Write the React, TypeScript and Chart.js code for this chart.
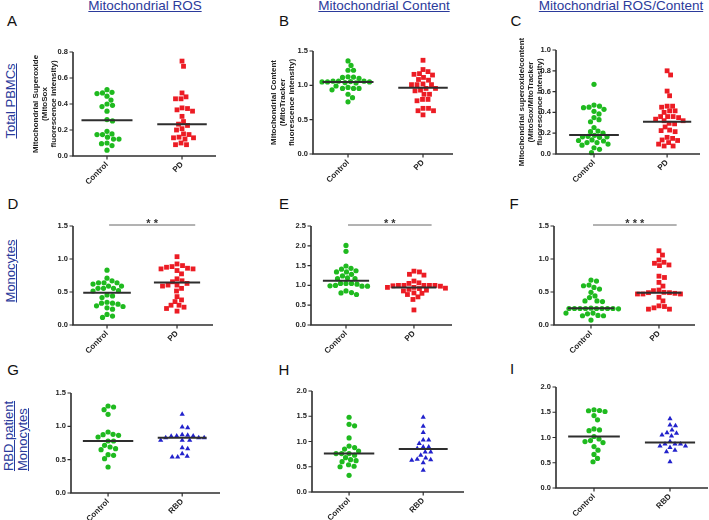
import React, { useEffect, useRef } from "react";
import { Chart, registerables } from "chart.js";
Chart.register(...registerables);

const FONT = "'Liberation Sans', Arial, Helvetica, sans-serif";

// ---------- categories ----------
const catsPD = ["Control", "PD"];
const catsRBD = ["Control", "RBD"];

// ---------- Row 1 : Total PBMCs ----------
const pbmcRosControl = [0.49, 0.48, 0.485, 0.51, 0.43, 0.46, 0.39, 0.38, 0.4, 0.345, 0.28, 0.27, 0.19, 0.165, 0.165, 0.17, 0.13, 0.145, 0.13, 0.1, 0.08, 0.095, 0.045];
const pbmcRosPD = [0.73, 0.69, 0.485, 0.44, 0.44, 0.455, 0.365, 0.345, 0.355, 0.37, 0.305, 0.265, 0.235, 0.245, 0.2, 0.21, 0.165, 0.17, 0.14, 0.14, 0.145, 0.13, 0.1, 0.087, 0.087];
const pbmcRosMedians = [0.275, 0.245];

const pbmcContentControl = [1.355, 1.29, 1.22, 1.22, 1.12, 1.115, 1.125, 1.1, 1.06, 1.06, 1.055, 1.05, 1.04, 1.035, 1.05, 1.05, 1.06, 0.955, 0.955, 0.97, 0.99, 0.935, 0.955, 0.87, 0.82, 0.76];
const pbmcContentPD = [1.365, 1.17, 1.23, 1.16, 1.2, 1.15, 1.085, 1.115, 1.075, 1.01, 1.01, 1.01, 1.02, 0.955, 0.93, 0.92, 0.955, 0.87, 0.87, 0.795, 0.775, 0.795, 0.665, 0.665, 0.63, 0.63, 0.57];
const pbmcContentMedians = [1.05, 0.965];

const pbmcRatioControl = [0.67, 0.47, 0.43, 0.45, 0.46, 0.445, 0.385, 0.41, 0.35, 0.33, 0.31, 0.255, 0.215, 0.22, 0.18, 0.165, 0.16, 0.165, 0.17, 0.2, 0.135, 0.125, 0.13, 0.095, 0.085, 0.11, 0.11, 0.06, 0.045, 0.013];
const pbmcRatioPD = [0.8, 0.76, 0.605, 0.56, 0.46, 0.46, 0.45, 0.415, 0.4, 0.415, 0.35, 0.335, 0.36, 0.36, 0.36, 0.32, 0.295, 0.29, 0.32, 0.225, 0.215, 0.23, 0.26, 0.16, 0.15, 0.13, 0.135, 0.095, 0.077, 0.077, 0.11];
const pbmcRatioMedians = [0.183, 0.31];

// ---------- Row 2 : Monocytes ----------
const monoRosControl = [0.83, 0.71, 0.64, 0.64, 0.64, 0.67, 0.62, 0.59, 0.59, 0.555, 0.555, 0.555, 0.52, 0.515, 0.455, 0.44, 0.415, 0.33, 0.33, 0.345, 0.315, 0.29, 0.26, 0.28, 0.24, 0.16, 0.135, 0.115];
const monoRosPD = [1.035, 0.875, 0.85, 0.925, 0.825, 0.775, 0.85, 0.86, 0.885, 0.9, 0.655, 0.7, 0.67, 0.605, 0.605, 0.63, 0.59, 0.555, 0.515, 0.38, 0.355, 0.43, 0.3, 0.27, 0.3, 0.25, 0.21];
const monoRosMedians = [0.49, 0.645];

const monoContentControl = [2.01, 1.86, 1.49, 1.43, 1.41, 1.34, 1.34, 1.37, 1.28, 1.24, 1.19, 1.17, 1.17, 1.05, 1.05, 1.0, 0.98, 0.98, 0.99, 1.05, 1.03, 0.82, 0.77, 0.81, 0.86];
const monoContentPD = [1.36, 1.28, 1.26, 1.34, 1.11, 1.05, 1.0, 0.99, 1.0, 0.98, 1.0, 1.0, 1.0, 1.065, 0.95, 0.93, 0.88, 0.92, 0.95, 0.9, 0.86, 0.8, 0.77, 0.81, 0.71, 0.645, 0.38];
const monoContentMedians = [1.115, 0.95];

const monoRatioControl = [0.68, 0.665, 0.595, 0.605, 0.545, 0.57, 0.495, 0.44, 0.415, 0.365, 0.365, 0.355, 0.25, 0.25, 0.25, 0.245, 0.255, 0.25, 0.25, 0.25, 0.25, 0.25, 0.18, 0.17, 0.18, 0.14, 0.14, 0.145, 0.075];
const monoRatioPD = [1.125, 1.06, 0.95, 0.91, 0.9, 0.935, 0.985, 0.72, 0.74, 0.645, 0.59, 0.53, 0.495, 0.49, 0.48, 0.47, 0.47, 0.47, 0.49, 0.52, 0.42, 0.365, 0.29, 0.26, 0.24, 0.24, 0.28];
const monoRatioMedians = [0.253, 0.49];

// ---------- Row 3 : RBD patient Monocytes ----------
const rbdRosControl = [1.29, 1.25, 1.305, 1.18, 0.88, 0.865, 0.875, 0.915, 0.84, 0.78, 0.78, 0.69, 0.665, 0.715, 0.65, 0.565, 0.575, 0.515, 0.39];
const rbdRosRBD = [1.18, 0.98, 0.99, 0.855, 0.85, 0.83, 0.875, 0.865, 0.83, 0.83, 0.855, 0.79, 0.79, 0.79, 0.68, 0.665, 0.55, 0.54, 0.54, 0.59];
const rbdRosMedians = [0.78, 0.83];

const rbdContentControl = [1.48, 1.31, 1.34, 1.07, 0.88, 0.91, 0.85, 0.81, 0.76, 0.73, 0.76, 0.76, 0.6, 0.64, 0.68, 0.62, 0.51, 0.5, 0.54, 0.33];
const rbdContentRBD = [1.48, 1.3, 1.18, 1.03, 1.03, 0.96, 0.89, 0.86, 0.89, 0.79, 0.73, 0.79, 0.65, 0.63, 0.64, 0.675, 0.58, 0.43];
const rbdContentMedians = [0.76, 0.85];

const rbdRatioControl = [1.535, 1.515, 1.53, 1.55, 1.435, 1.35, 1.17, 1.135, 1.15, 0.97, 0.92, 0.94, 1.02, 0.9, 0.82, 0.75, 0.665, 0.585, 0.52];
const rbdRatioRBD = [1.37, 1.235, 1.25, 1.095, 1.05, 1.03, 1.085, 1.15, 0.83, 0.87, 0.87, 0.87, 0.92, 0.83, 0.75, 0.72, 0.8, 0.52];
const rbdRatioMedians = [1.02, 0.9];

// ---------- axes ----------
const yMaxes = [0.8, 1.5, 1.0, 1.5, 2.5, 1.5, 1.5, 2.0, 2.0];
const ySteps = [0.2, 0.5, 0.2, 0.5, 0.5, 0.5, 0.5, 0.5, 0.5];
const sigLabels = ["", "", "", "**", "**", "***", "", "", ""];
const yTitles: (string[] | null)[] = [
  ["Mitochondrial Superoxide", "(MitoSox", "fluorescence intensity)"],
  ["Mitochondrial Content", "(MitoTracker", "fluorescence intensity)"],
  ["Mitochondrial superoxide/content", "(MitoSox/MitoTracker", "fluorescence intensity)"],
  null, null, null, null, null, null,
];
const columnHeaders = ["Mitochondrial ROS", "Mitochondrial Content", "Mitochondrial ROS/Content"];
const panelLetters = ["A", "B", "C", "D", "E", "F", "G", "H", "I"];

const PANELS = [
  { control: pbmcRosControl, group: pbmcRosPD, medians: pbmcRosMedians, cats: catsPD },
  { control: pbmcContentControl, group: pbmcContentPD, medians: pbmcContentMedians, cats: catsPD },
  { control: pbmcRatioControl, group: pbmcRatioPD, medians: pbmcRatioMedians, cats: catsPD },
  { control: monoRosControl, group: monoRosPD, medians: monoRosMedians, cats: catsPD },
  { control: monoContentControl, group: monoContentPD, medians: monoContentMedians, cats: catsPD },
  { control: monoRatioControl, group: monoRatioPD, medians: monoRatioMedians, cats: catsPD },
  { control: rbdRosControl, group: rbdRosRBD, medians: rbdRosMedians, cats: catsRBD },
  { control: rbdContentControl, group: rbdContentRBD, medians: rbdContentMedians, cats: catsRBD },
  { control: rbdRatioControl, group: rbdRatioRBD, medians: rbdRatioMedians, cats: catsRBD },
];

// ---------- layout (page pixels) ----------
const LAYOUT = [
  { l: 73, r: 216, t: 52, b: 156, xMin: -0.453, xMax: 1.453, titleX: 36 },
  { l: 313, r: 453, t: 51, b: 154, xMin: -0.467, xMax: 1.4, titleX: 274 },
  { l: 556, r: 700, t: 50, b: 154, xMin: -0.52, xMax: 1.45, titleX: 522 },
  { l: 73, r: 213, t: 226, b: 325, xMin: -0.486, xMax: 1.514, titleX: 0 },
  { l: 311, r: 452, t: 226, b: 325, xMin: -0.515, xMax: 1.56, titleX: 0 },
  { l: 554, r: 695, t: 226, b: 325, xMin: -0.544, xMax: 1.53, titleX: 0 },
  { l: 71, r: 220, t: 393, b: 493, xMin: -0.5, xMax: 1.51, titleX: 0 },
  { l: 312, r: 464, t: 391, b: 492, xMin: -0.5, xMax: 1.55, titleX: 0 },
  { l: 556, r: 708, t: 387, b: 488, xMin: -0.5, xMax: 1.5, titleX: 0 },
];
const PAD_TOP = 14;
const PAD_RIGHT = 6;
const X_AXIS_H = 42;

const GREEN = "#1fba1f";
const RED = "#ec1c24";
const BLUE = "#2222cc";
const AXIS = "#2e2e2e";
const TEXT_BLUE = "#2b3a9b";

// deterministic beeswarm: spread points that would overlap horizontally
function swarm(values: number[], center: number, pxPerY: number, pxPerX: number, d = 5.3) {
  const order = values.map((_, i) => i).sort((a, b) => values[b] - values[a]);
  const placed: { px: number; py: number }[] = [];
  const out: { x: number; y: number }[] = new Array(values.length);
  const cands: number[] = [0];
  for (let k = 1; k <= 80; k++) cands.push(k * 0.5, -k * 0.5);
  for (const i of order) {
    const py = values[i] * pxPerY;
    let best = 0;
    for (const c of cands) {
      if (placed.every((p) => (p.px - c) ** 2 + (p.py - py) ** 2 >= d * d)) {
        best = c;
        break;
      }
    }
    placed.push({ px: best, py });
    out[i] = { x: center + best / pxPerX, y: values[i] };
  }
  return out;
}

function Panel({ i }: { i: number }) {
  const ref = useRef<HTMLCanvasElement | null>(null);
  const L = LAYOUT[i];
  const title = yTitles[i];
  const left = Math.round(title ? L.titleX - 4.6 : L.l - 34);
  const top = L.t - PAD_TOP;
  const width = L.r + PAD_RIGHT - left;
  const height = L.b + X_AXIS_H - top;

  useEffect(() => {
    const canvas = ref.current;
    if (!canvas) return;
    const p = PANELS[i];
    const yMax = yMaxes[i];
    const pxPerY = (L.b - L.t) / yMax;
    const pxPerX = (L.r - L.l) / (L.xMax - L.xMin);
    const isRBD = p.cats[1] === "RBD";
    const tickFont = { family: FONT, size: 7.5, weight: "bold" as const };
    const sig = sigLabels[i];
    const yW = L.l - left;

    // axis frame and tick marks drawn as line datasets through the scales
    const yTickVals: number[] = [];
    for (let k = 0; k * ySteps[i] <= yMax + 1e-9; k++) yTickVals.push(k * ySteps[i]);
    const tickLenX = 3.5 / pxPerX;
    const tickLenY = 3.5 / pxPerY;
    const tickPts: any[] = [];
    for (const v of yTickVals) {
      tickPts.push({ x: L.xMin - tickLenX, y: v }, { x: L.xMin, y: v }, { x: L.xMin, y: null });
    }
    for (const c of [0, 1]) {
      tickPts.push({ x: c, y: 0 }, { x: c, y: -tickLenY }, { x: c, y: null });
    }
    const lineDs = (data: any[], w: number, color = AXIS) => ({
      data,
      showLine: true,
      spanGaps: false,
      borderColor: color,
      borderWidth: w,
      pointRadius: 0,
      clip: false,
      borderCapStyle: "butt",
    });

    const sigPlugin = {
      id: "sig" + i,
      afterDatasetsDraw(chart: any) {
        if (!sig) return;
        const ctx = chart.ctx as CanvasRenderingContext2D;
        const xs = chart.scales.x;
        const ys = chart.scales.y;
        const yy = Math.round(ys.getPixelForValue(yMax)) - 1.5;
        const x0 = xs.getPixelForValue(0.03);
        const x1 = xs.getPixelForValue(1.26);
        ctx.save();
        ctx.strokeStyle = "#666";
        ctx.lineWidth = 1;
        ctx.beginPath();
        ctx.moveTo(x0, yy + 0.5);
        ctx.lineTo(x1, yy + 0.5);
        ctx.stroke();
        ctx.fillStyle = "#333";
        ctx.font = `bold 11px ${FONT}`;
        ctx.textAlign = "center";
        ctx.textBaseline = "alphabetic";
        ctx.fillText(sig.split("").join(" "), (x0 + x1) / 2, yy + 2.5);
        ctx.restore();
      },
    };

    const chart = new Chart(canvas, {
      type: "scatter",
      data: {
        datasets: [
          lineDs([{ x: L.xMin, y: yMax }, { x: L.xMin, y: 0 }, { x: L.xMax, y: 0 }], 1.6),
          lineDs(tickPts, 1.2),
          lineDs([{ x: -0.34, y: p.medians[0] }, { x: 0.34, y: p.medians[0] }], 2),
          lineDs([{ x: 0.67, y: p.medians[1] }, { x: 1.33, y: p.medians[1] }], 2),
          {
            data: swarm(p.control, 0, pxPerY, pxPerX),
            pointStyle: "circle",
            pointRadius: 2.6,
            backgroundColor: GREEN,
            borderWidth: 0,
            clip: false,
          },
          {
            data: swarm(p.group, 1, pxPerY, pxPerX),
            pointStyle: isRBD ? "triangle" : "rect",
            pointRadius: isRBD ? 3.0 : 3.4,
            backgroundColor: isRBD ? BLUE : RED,
            borderWidth: 0,
            clip: false,
          },
        ] as any,
      },
      options: {
        responsive: false,
        animation: false,
        events: [],
        layout: { padding: { left: 0, top: PAD_TOP, right: PAD_RIGHT, bottom: 0 } },
        plugins: { legend: { display: false }, tooltip: { enabled: false } },
        scales: {
          x: {
            type: "linear",
            bounds: "data",
            min: L.xMin,
            max: L.xMax,
            afterBuildTicks: (s: any) => {
              s.ticks = [{ value: 0 }, { value: 1 }];
            },
            afterFit: (s: any) => {
              s.height = X_AXIS_H;
            },
            ticks: {
              callback: (v: any) => p.cats[Math.round(Number(v))] ?? "",
              minRotation: 45,
              maxRotation: 45,
              font: { family: FONT, size: 8, weight: "bold" },
              color: "#222",
              padding: 1,
              autoSkip: false,
            },
            grid: { display: false, drawOnChartArea: false, drawTicks: true, tickLength: 3 },
            border: { display: false },
          },
          y: {
            type: "linear",
            min: 0,
            max: yMax,
            afterFit: (s: any) => {
              s.width = yW;
            },
            ticks: {
              stepSize: ySteps[i],
              callback: (v: any) => Number(v).toFixed(1),
              font: tickFont,
              color: "#222",
              padding: 2,
            },
            grid: { display: false, drawOnChartArea: false, drawTicks: true, tickLength: 3 },
            border: { display: false },
            title: {
              display: !!title,
              text: title ?? "",
              color: "#222",
              padding: 0,
              font: { family: FONT, size: 8, weight: "bold", lineHeight: 1.15 },
            },
          },
        },
      } as any,
      plugins: [sigPlugin],
    });
    return () => chart.destroy();
  }, [i]);

  return (
    <canvas
      ref={ref}
      width={width}
      height={height}
      style={{ position: "absolute", left, top, width, height }}
    />
  );
}

const headerX = [145, 384, 621];
const letterPos = [
  [12, 26], [284, 26], [516, 26],
  [13, 209], [284, 209], [514, 209],
  [13, 375], [284, 375], [512, 374],
];

export default function App() {
  useEffect(() => {
    document.body.style.margin = "0";
    document.body.style.overflow = "hidden";
  }, []);

  const rot: React.CSSProperties = {
    position: "absolute",
    transform: "translate(-50%, -50%) rotate(-90deg)",
    whiteSpace: "nowrap",
    fontSize: 13,
    lineHeight: "14px",
    color: TEXT_BLUE,
    textDecoration: "underline",
    textAlign: "left",
  };

  return (
    <div
      style={{
        position: "absolute",
        left: 0,
        top: 0,
        width: 709,
        height: 520,
        overflow: "hidden",
        background: "#fff",
        fontFamily: FONT,
      }}
    >
      {columnHeaders.map((h, k) => (
        <div
          key={h}
          style={{
            position: "absolute",
            left: headerX[k],
            top: -1,
            transform: "translateX(-50%)",
            fontSize: 13.5,
            lineHeight: "14px",
            color: TEXT_BLUE,
            textDecoration: "underline",
            whiteSpace: "nowrap",
          }}
        >
          {h}
        </div>
      ))}
      {panelLetters.map((t, k) => (
        <div
          key={t}
          style={{
            position: "absolute",
            left: letterPos[k][0],
            top: letterPos[k][1] - 12.7,
            transform: "translateX(-50%)",
            fontSize: 15,
            lineHeight: "15px",
            color: "#111",
          }}
        >
          {t}
        </div>
      ))}
      <div style={{ ...rot, left: 10.5, top: 101 }}>Total PBMCs</div>
      <div style={{ ...rot, left: 10.5, top: 271 }}>Monocytes</div>
      <div style={{ ...rot, left: 16, top: 436 }}>
        RBD patient
        <br />
        Monocytes
      </div>
      {PANELS.map((_, k) => (
        <Panel key={k} i={k} />
      ))}
    </div>
  );
}
